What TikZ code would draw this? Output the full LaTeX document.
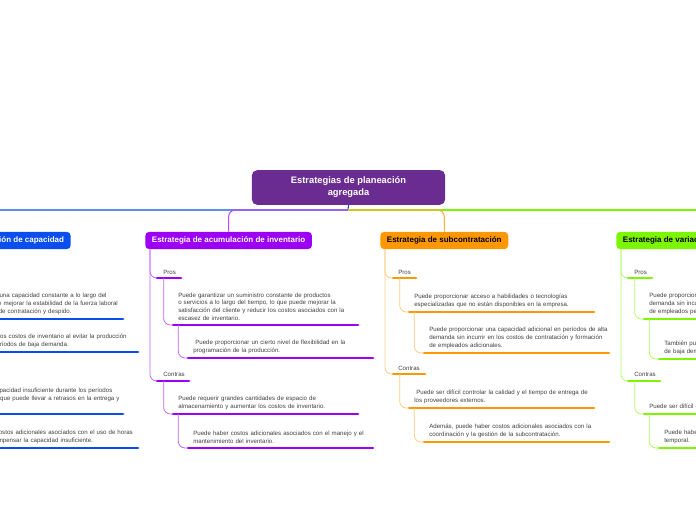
\documentclass[tikz,border=0pt]{standalone}
\usepackage{fontspec}
\setmainfont{Liberation Sans}
\hyphenpenalty=10000
\exhyphenpenalty=10000
\definecolor{cRoot}{HTML}{6A2C91}
\definecolor{cBlue}{HTML}{0A4EF0}
\definecolor{cPur}{HTML}{9B00F5}
\definecolor{cOra}{HTML}{FF9800}
\definecolor{cGre}{HTML}{7DF500}
\newcommand\Item[7]{% name,x,unused,yu,len,color,text
 \node[itx,anchor=south west] (#1t) at (#2+5,#4-4) {#7};
 \coordinate (#1l) at (#2,#4); \coordinate (#1r) at (#2+#5,#4);
 \draw[ul,#6] (#1l)--(#1r);}
\newcommand\Lab[5]{%
 \coordinate (#1l) at (#2,#3); \coordinate (#1r) at (#2+#4,#3);
 \draw[ul,#5] (#1l)--(#1r);}
\begin{document}
\begin{tikzpicture}[x=0.75pt,y=-0.75pt,
 itx/.style={font=\fontsize{4.6}{5.9}\selectfont,text=black!75,text width=136pt,align=left,inner sep=0pt},
 lbl/.style={font=\fontsize{4.6}{6}\selectfont,text=black!75,inner sep=0pt,anchor=south west},
 ul/.style={line width=2.2pt,line cap=round},
 cn/.style={line width=0.6pt,rounded corners=5pt},
 br/.style={rounded corners=3pt,font=\bfseries\fontsize{6}{8}\selectfont,minimum height=13pt,inner xsep=5pt}]
\useasboundingbox (0,0) rectangle (696,520);
\clip (0,0) rectangle (696,520);
\node[fill=cRoot,rounded corners=4pt,text=white,font=\bfseries\fontsize{7}{9}\selectfont,align=center,minimum width=145pt,minimum height=26pt] (root) at (348.5,187.5) {Estrategias de planeación\\agregada};
\coordinate (hub) at (348,210);
\coordinate (hl) at (0,210); \coordinate (hr) at (696,210);
\draw[cBlue,line width=0.8pt] (root.south) -- (hub) -- (hl);
\draw[cGre,line width=0.8pt] (hub) -- (hr);
\node[br,fill=cBlue,text=white,anchor=east] (bB) at (71,240.5) {Estrategia de variación de capacidad};
\node[br,fill=cPur,text=white,anchor=west] (bP) at (145,240.5) {Estrategia de acumulación de inventario};
\node[br,fill=cOra,text=black,anchor=west] (bO) at (380,240.5) {Estrategia de subcontratación};
\node[br,fill=cGre,text=black,anchor=west] (bG) at (616,240.5) {Estrategia de variación de capacidad};
\draw[cPur!70,line width=0.8pt,rounded corners=5pt] (hub) -| (bP.north);
\draw[cOra!80,line width=0.8pt,rounded corners=5pt] (hub) -| (bO.north);
% blue
\Item{b1}{-62}{0}{319}{185}{cBlue}{Puede proporcionar una capacidad constante a lo largo del tiempo, lo que puede mejorar la estabilidad de la fuerza laboral y reducir los costos de contratación y despido.}
\Item{b2}{-47}{0}{352}{185}{cBlue}{Puede reducir los costos de inventario al evitar la producción excesiva en períodos de baja demanda.}
\Item{b3}{-62}{0}{414}{185}{cBlue}{Puede haber una capacidad insuficiente durante los períodos de alta demanda, lo que puede llevar a retrasos en la entrega y pérdida de clientes.}
\Item{b4}{-47}{0}{448}{185}{cBlue}{Puede haber costos adicionales asociados con el uso de horas extras para compensar la capacidad insuficiente.}
% purple
\node[lbl] (pP) at (163,275) {Pros};
\Lab{pp}{157}{278}{24}{cPur}
\node[lbl] (pC) at (163,377) {Contras};
\Lab{pc}{157}{381}{32}{cPur}
\Item{p1}{173}{0}{325}{185}{cPur}{Puede garantizar un suministro constante de productos o servicios a lo largo del tiempo, lo que puede mejorar la satisfacción del cliente y reducir los costos asociados con la escasez de inventario.}
\Item{p2}{188}{0}{358}{185}{cPur}{\ Puede proporcionar un cierto nivel de flexibilidad en la programación de la producción.}
\Item{p3}{173}{0}{414}{185}{cPur}{Puede requerir grandes cantidades de espacio de almacenamiento y aumentar los costos de inventario.}
\Item{p4}{188}{0}{448}{185}{cPur}{Puede haber costos adicionales asociados con el manejo y el mantenimiento del inventario.}
\draw[cn,cPur!60] ([xshift=3.75pt]bP.south west) |- (ppl);
\draw[cn,cPur!60] ([xshift=3.75pt]bP.south west) |- (pcl);
\draw[cn,cPur!60] ([xshift=5pt]ppl) |- (p1l);
\draw[cn,cPur!60] ([xshift=4pt]p1l) |- (p2l);
\draw[cn,cPur!60] ([xshift=5pt]pcl) |- (p3l);
\draw[cn,cPur!60] ([xshift=4pt]p3l) |- (p4l);
% orange
\node[lbl] (oP) at (398,275) {Pros};
\Lab{op}{393}{278}{23}{cOra}
\node[lbl] (oC) at (398,371) {Contras};
\Lab{oc}{393}{374}{32}{cOra}
\Item{o1}{409}{0}{312}{185}{cOra}{Puede proporcionar acceso a habilidades o tecnologías especializadas que no están disponibles en la empresa.}
\Item{o2}{424}{0}{353}{185}{cOra}{Puede proporcionar una capacidad adicional en períodos de alta demanda sin incurrir en los costos de contratación y formación de empleados adicionales.}
\Item{o3}{409}{0}{408}{185}{cOra}{\ Puede ser difícil controlar la calidad y el tiempo de entrega de los proveedores externos.}
\Item{o4}{424}{0}{442}{185}{cOra}{Además, puede haber costos adicionales asociados con la coordinación y la gestión de la subcontratación.}
\draw[cn,cOra!50] ([xshift=3.75pt]bO.south west) |- (opl);
\draw[cn,cOra!50] ([xshift=3.75pt]bO.south west) |- (ocl);
\draw[cn,cOra!50] ([xshift=5pt]opl) |- (o1l);
\draw[cn,cOra!50] ([xshift=4pt]o1l) |- (o2l);
\draw[cn,cOra!50] ([xshift=5pt]ocl) |- (o3l);
\draw[cn,cOra!50] ([xshift=4pt]o3l) |- (o4l);
% green
\node[lbl] (gP) at (634,275) {Pros};
\Lab{gp}{628}{278}{24}{cGre}
\node[lbl] (gC) at (634,377) {Contras};
\Lab{gc}{628}{381}{32}{cGre}
\Item{g1}{644}{0}{319}{185}{cGre}{Puede proporcionar una capacidad adicional en períodos de alta demanda sin incurrir en los costos de contratación y formación de empleados permanentes.}
\Item{g2}{659}{0}{359}{185}{cGre}{También puede ayudar a reducir los costos laborales en períodos de baja demanda.}
\Item{g3}{644}{0}{414}{185}{cGre}{Puede ser difícil capacitar y retener a los empleados temporales.}
\Item{g4}{659}{0}{448}{185}{cGre}{Puede haber costos adicionales asociados con la fuerza laboral temporal.}
\draw[cn,cGre!60] ([xshift=3.75pt]bG.south west) |- (gpl);
\draw[cn,cGre!60] ([xshift=3.75pt]bG.south west) |- (gcl);
\draw[cn,cGre!60] ([xshift=5pt]gpl) |- (g1l);
\draw[cn,cGre!60] ([xshift=4pt]g1l) |- (g2l);
\draw[cn,cGre!60] ([xshift=5pt]gcl) |- (g3l);
\draw[cn,cGre!60] ([xshift=4pt]g3l) |- (g4l);
\end{tikzpicture}
\end{document}
